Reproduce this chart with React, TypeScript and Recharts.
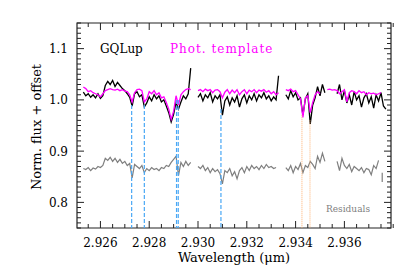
import { LineChart, Line, XAxis, YAxis, ReferenceLine, ReferenceArea } from "recharts";

const STEP = 0.0001;

// Observed spectrum, one entry per contiguous chunk (gaps between detector orders)
const GQLUP_SEGMENTS = [
  {
    start: 2.9253,
    flux: [
      1.015, 1.008, 1.012, 1.005, 1.01, 1.004, 1.012, 1.003, 1.008, 1.028,
      1.036, 1.03, 1.038, 1.026, 1.034, 1.028, 1.022, 1.018, 1.012, 1.005,
      0.988, 1.012, 1.016, 1.006, 1.01, 0.986, 0.994, 1.006, 0.998, 1.01,
      1.002, 1.008, 0.996, 1.0, 0.988, 0.975, 0.957, 0.972, 0.995, 0.982,
      0.996, 1.008, 1.002, 1.012, 1.062,
    ],
  },
  {
    start: 2.93,
    flux: [
      1.005, 1.012, 0.998, 1.01, 1.004, 1.014, 0.996, 1.008, 1.002, 1.01,
      0.97, 0.998, 1.006, 0.99, 1.004, 0.996, 1.008, 0.986, 1.002, 1.01,
      0.994, 1.008, 1.0, 1.012, 0.998, 1.01, 1.004, 1.014, 1.002, 1.008,
      0.998, 1.006, 1.0, 1.047,
    ],
  },
  {
    start: 2.9336,
    flux: [
      1.01, 1.002, 1.018, 1.006, 1.014, 1.0, 1.004, 0.97, 1.002, 1.012,
      0.953, 0.99, 1.004, 1.026, 1.008, 1.03, 1.014,
    ],
  },
  {
    start: 2.9357,
    flux: [
      1.012, 1.03, 1.0, 1.018, 0.994, 1.01, 0.99, 1.016, 1.0, 1.008, 0.986,
      1.004, 1.012, 0.994, 1.006, 0.984, 1.01, 0.998, 1.014, 0.988, 0.982,
    ],
  },
];

const TEMPLATE_SEGMENTS = [
  {
    start: 2.9253,
    flux: [
      1.025, 1.022, 1.016, 1.018, 1.014, 1.012, 1.01, 1.006, 1.012, 1.018,
      1.02, 1.022, 1.02, 1.019, 1.021, 1.018, 1.02, 1.017, 1.016, 1.01,
      0.996, 1.014, 1.02, 1.021, 1.018, 0.996, 1.002, 1.016, 1.012, 1.018,
      1.01, 1.014, 1.004, 1.006, 0.995, 0.982, 0.962, 0.978, 1.008, 0.99,
      1.01, 1.016, 1.02, 1.022, 1.02,
    ],
  },
  {
    start: 2.93,
    flux: [
      1.018, 1.02, 1.016, 1.021, 1.018, 1.02, 1.014, 1.019, 1.02, 1.016,
      1.004, 1.015, 1.02, 1.012, 1.019, 1.014, 1.02, 1.01, 1.016, 1.02,
      1.012, 1.019, 1.016, 1.02, 1.014, 1.019, 1.017, 1.02, 1.015, 1.018,
      1.012, 1.016, 1.01, 1.014,
    ],
  },
  {
    start: 2.9336,
    flux: [
      1.02, 1.018, 1.021, 1.016, 1.018, 1.01, 1.002, 0.966, 1.004, 1.008,
      0.975, 0.995, 1.01, 1.016, 1.012,
    ],
  },
  {
    start: 2.9353,
    flux: [
      1.02, 1.021, 1.019, 1.02, 1.018, 1.012, 1.016, 1.02, 0.996, 1.014,
      1.018, 1.016, 1.012, 1.018, 1.014, 1.016, 1.01, 1.014, 1.012, 1.013,
      1.01, 1.012, 1.014,
    ],
  },
];

const RESIDUAL_SEGMENTS = [
  {
    start: 2.9253,
    flux: [
      0.866, 0.864, 0.868, 0.862, 0.867, 0.865, 0.87, 0.868, 0.872, 0.886,
      0.882, 0.888, 0.88, 0.886, 0.878, 0.884, 0.876, 0.88, 0.872, 0.876,
      0.848, 0.874, 0.87, 0.866, 0.872, 0.858, 0.866, 0.862, 0.868, 0.864,
      0.866, 0.862, 0.868, 0.866, 0.872, 0.87, 0.878, 0.884, 0.89, 0.852,
      0.878, 0.87, 0.88, 0.872, 0.878,
    ],
  },
  {
    start: 2.93,
    flux: [
      0.87, 0.866, 0.872, 0.862, 0.868, 0.858, 0.866, 0.86, 0.864, 0.856,
      0.836, 0.862, 0.858, 0.866, 0.852, 0.86, 0.846, 0.862, 0.868, 0.858,
      0.87, 0.862, 0.872, 0.866, 0.87, 0.864, 0.872, 0.866, 0.874, 0.868,
      0.87, 0.866, 0.868,
    ],
  },
  {
    start: 2.9336,
    flux: [
      0.868, 0.862, 0.872, 0.858, 0.87, 0.864, 0.876, 0.858, 0.872, 0.868,
      0.88, 0.874, 0.866, 0.89, 0.878, 0.896, 0.88,
    ],
  },
  {
    start: 2.9357,
    flux: [
      0.88, 0.862, 0.886, 0.872, 0.866, 0.874, 0.86, 0.87, 0.866, 0.862,
      0.868, 0.858, 0.866, 0.864, 0.854, 0.872, 0.866, 0.882,
    ],
  },
];

// lone residual sliver at the red end
const RESIDUAL_TAIL = [
  { wl: 2.93755, v: 0.858 },
  { wl: 2.93755, v: 0.84 },
];

// line identifications: wavelength and top of the marker
const BLUE_MARKERS = [
  { wl: 2.92728, top: 0.99 },
  { wl: 2.9278, top: 0.99 },
  { wl: 2.92912, top: 1.0 },
  { wl: 2.92919, top: 1.0 },
  { wl: 2.93094, top: 0.982 },
];
const ORANGE_MARKERS = [
  { wl: 2.93426, top: 0.97 },
  { wl: 2.93459, top: 0.96 },
];

const X_DOMAIN = [2.92504, 2.93791];
const Y_DOMAIN = [0.75, 1.15];
const X_MAJOR = [2.926, 2.928, 2.93, 2.932, 2.934, 2.936];
const Y_MAJOR = [0.8, 0.9, 1.0, 1.1];

const X_MINOR: number[] = [];
for (let i = 0; i <= 25; i++) X_MINOR.push(+(2.9255 + i * 0.0005).toFixed(4));
const Y_MINOR: number[] = [];
for (let i = 0; i <= 40; i++) Y_MINOR.push(+(0.75 + i * 0.01).toFixed(2));

const W = 415;
const H = 277;
const MARGIN = { top: 23, right: 24, bottom: 19, left: 37 };
const X_AXIS_H = 30;
const Y_AXIS_W = 40;
const PLOT_TOP = MARGIN.top;
const PLOT_BOTTOM = H - MARGIN.bottom - X_AXIS_H;
const PLOT_LEFT = MARGIN.left + Y_AXIS_W;
const PLOT_RIGHT = W - MARGIN.right;

const FONT = "'DejaVu Serif', 'Liberation Serif', serif";
const INK = "#222";

const isMajor = (v: number, majors: number[]) => majors.some((m) => Math.abs(m - v) < 1e-7);

// IDL-style ticks: inward, mirrored on the opposite side, long at labelled values
function XTick(props: any) {
  const { x, payload } = props;
  const major = isMajor(payload.value, X_MAJOR);
  const len = major ? 7 : 4;
  return (
    <g>
      <line x1={x} x2={x} y1={PLOT_BOTTOM} y2={PLOT_BOTTOM - len} stroke={INK} />
      <line x1={x} x2={x} y1={PLOT_TOP} y2={PLOT_TOP + len} stroke={INK} />
      {major && (
        <text x={x} y={PLOT_BOTTOM + 19} textAnchor="middle" fontFamily={FONT} fontSize={12} fill="#000">
          {payload.value.toFixed(3)}
        </text>
      )}
    </g>
  );
}

function YTick(props: any) {
  const { y, payload } = props;
  const major = isMajor(payload.value, Y_MAJOR);
  const len = major ? 7 : 4;
  return (
    <g>
      <line x1={PLOT_LEFT} x2={PLOT_LEFT + len} y1={y} y2={y} stroke={INK} />
      <line x1={PLOT_RIGHT} x2={PLOT_RIGHT - len} y1={y} y2={y} stroke={INK} />
      {major && (
        <text x={PLOT_LEFT - 9} y={y + 4.5} textAnchor="end" fontFamily={FONT} fontSize={12} fill="#000">
          {payload.value.toFixed(1)}
        </text>
      )}
    </g>
  );
}

function toPoints(seg: { start: number; flux: number[] }) {
  return seg.flux.map((v, i) => ({ wl: +(seg.start + i * STEP).toFixed(5), v }));
}

const LINE_BASE = {
  dataKey: "v",
  dot: false,
  isAnimationActive: false,
  type: "linear",
} as const;

export default function App() {
  return (
    <div style={{ position: "absolute", left: 0, top: 0, width: W, height: H, background: "#fff" }}>
      <LineChart width={W} height={H} margin={MARGIN}>
        <XAxis type="number" dataKey="wl" domain={X_DOMAIN} ticks={X_MINOR} interval={0}
          height={X_AXIS_H} tick={<XTick />} tickLine={false} axisLine={false} tickSize={0} tickMargin={0}
          allowDataOverflow />
        <YAxis type="number" domain={Y_DOMAIN} ticks={Y_MINOR} interval={0}
          width={Y_AXIS_W} tick={<YTick />} tickLine={false} axisLine={false} tickSize={0} tickMargin={0}
          allowDataOverflow />

        {/* plot frame */}
        <ReferenceArea x1={X_DOMAIN[0]} x2={X_DOMAIN[1]} y1={Y_DOMAIN[0]} y2={Y_DOMAIN[1]}
          fill="none" fillOpacity={0} stroke={INK} strokeWidth={1.2} />

        {RESIDUAL_SEGMENTS.map((seg, i) => (
          <Line key={"r" + i} {...LINE_BASE} data={toPoints(seg)} stroke="#7f7f7f" strokeWidth={1.2} />
        ))}
        <Line {...LINE_BASE} data={RESIDUAL_TAIL} stroke="#7f7f7f" strokeWidth={1.2} />

        {GQLUP_SEGMENTS.map((seg, i) => (
          <Line key={"g" + i} {...LINE_BASE} data={toPoints(seg)} stroke="#000" strokeWidth={1.3} />
        ))}
        {TEMPLATE_SEGMENTS.map((seg, i) => (
          <Line key={"t" + i} {...LINE_BASE} data={toPoints(seg)} stroke="#ff00ff" strokeWidth={1.3} />
        ))}

        {BLUE_MARKERS.map((m, i) => (
          <ReferenceLine key={"b" + i} segment={[{ x: m.wl, y: m.top }, { x: m.wl, y: 0.75 }]}
            stroke="#4aa8f5" strokeWidth={1.2} strokeDasharray="4 2" />
        ))}
        {ORANGE_MARKERS.map((m, i) => (
          <ReferenceLine key={"o" + i} segment={[{ x: m.wl, y: m.top }, { x: m.wl, y: 0.75 }]}
            stroke="#ffb070" strokeWidth={1} strokeDasharray="1 1" />
        ))}
      </LineChart>

      <div style={{ position: "absolute", left: 100, top: 41, fontFamily: FONT, fontSize: 12, color: "#000", lineHeight: "16px" }}>
        GQLup
      </div>
      <div style={{ position: "absolute", left: 170, top: 41, fontFamily: FONT, fontSize: 12, color: "#ff00ff", lineHeight: "16px", letterSpacing: 1, whiteSpace: "nowrap" }}>
        Phot. template
      </div>
      <div style={{ position: "absolute", left: 326, top: 203, fontFamily: FONT, fontSize: 9, color: "#808080", lineHeight: "12px" }}>
        Residuals
      </div>
      <div style={{ position: "absolute", left: 134, width: 200, top: 250, textAlign: "center", fontFamily: FONT, fontSize: 13, lineHeight: "16px", whiteSpace: "nowrap" }}>
        Wavelength (μm)
      </div>
      <div style={{ position: "absolute", left: 37 - 100, top: 127 - 8, width: 200, textAlign: "center", fontFamily: FONT, fontSize: 13, lineHeight: "16px", whiteSpace: "nowrap", transform: "rotate(-90deg)" }}>
        Norm. flux + offset
      </div>
    </div>
  );
}
